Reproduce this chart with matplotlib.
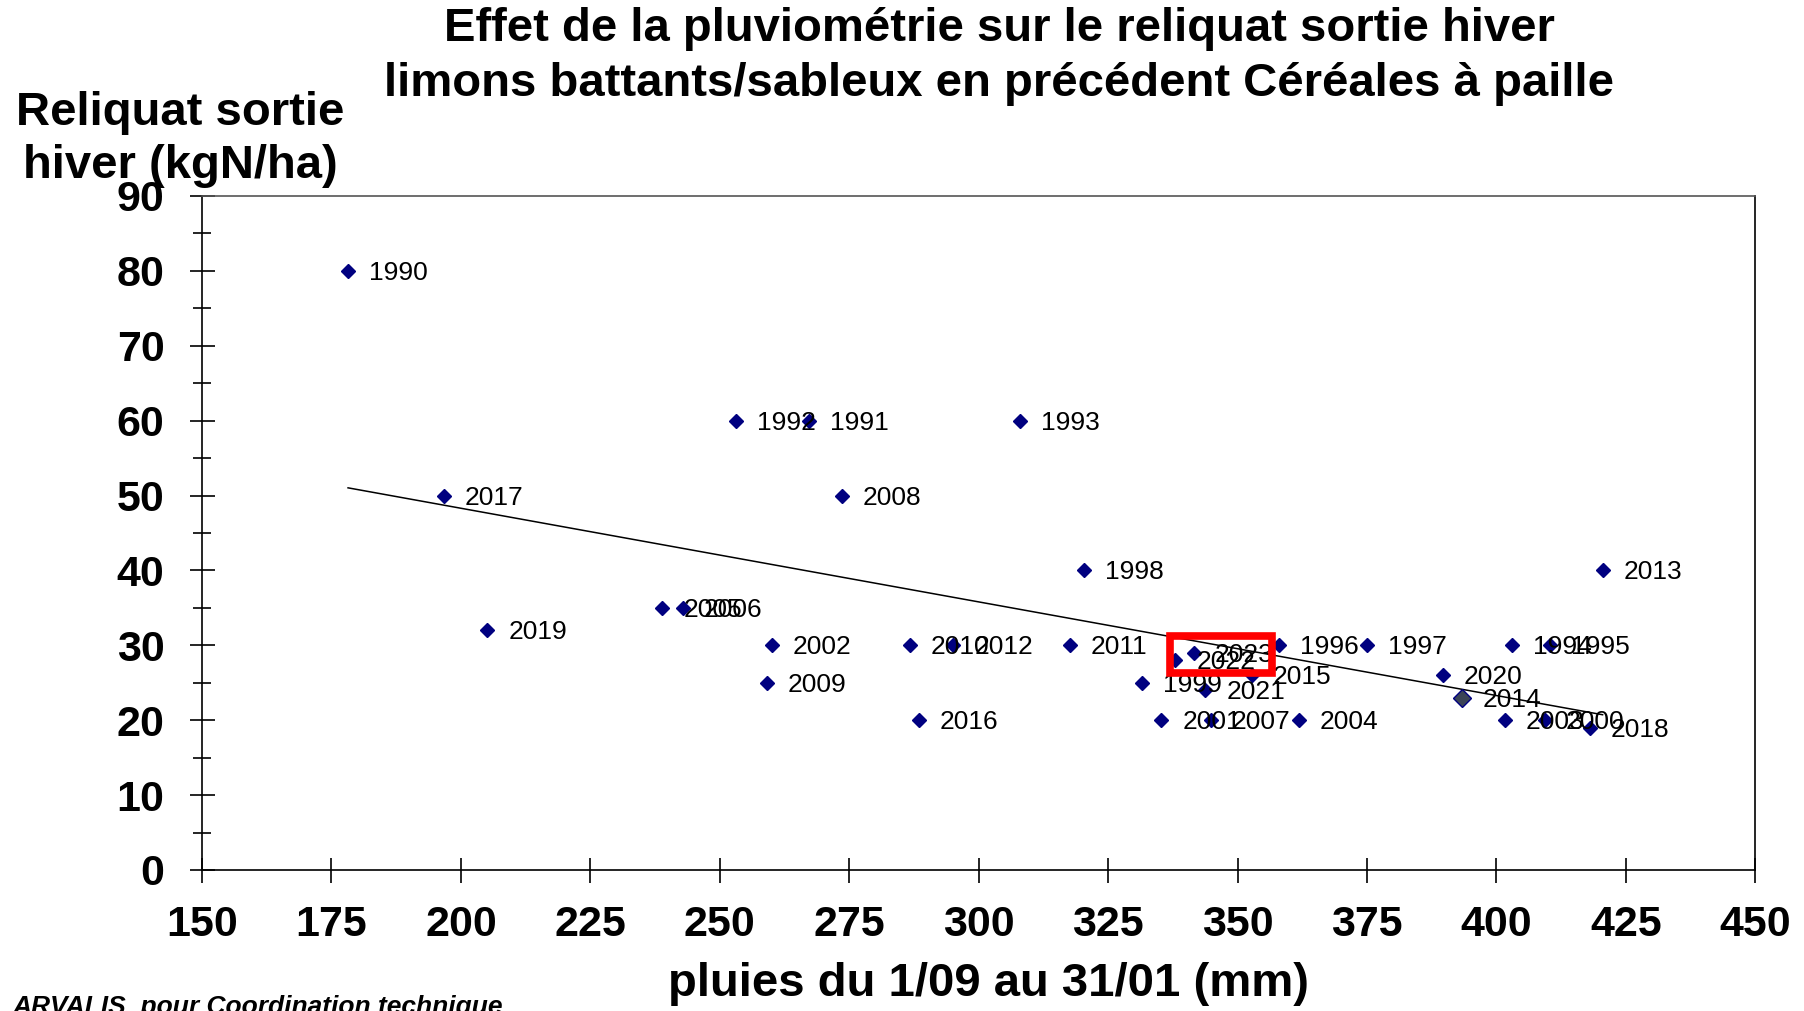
import numpy as np
import matplotlib
matplotlib.use("Agg")
import matplotlib.pyplot as plt
from matplotlib.patches import Rectangle
from matplotlib.ticker import MultipleLocator

plt.rcParams['font.family'] = ['Liberation Sans', 'DejaVu Sans']

# Data
years = ['1990', '2017', '2019', '2005', '2006', '1992', '1991', '2009', '2002',
         '2008', '2010', '2016', '2012', '1993', '2011', '1998', '1999', '2001',
         '2022', '2023', '2021', '2007', '2015', '1996', '2004', '1997', '2020',
         '2014', '2003', '1994', '1995', '2000', '2018', '2013']
pluies = [178.2, 196.7, 205.1, 238.9, 242.9, 253.1, 267.3, 259.1, 260.0,
          273.6, 286.7, 288.4, 295.1, 308.0, 317.6, 320.4, 331.6, 335.3,
          338.0, 341.6, 343.8, 344.9, 352.7, 358.1, 361.8, 375.1, 389.7,
          393.4, 401.6, 403.0, 410.3, 409.4, 418.0, 420.5]
reliquat = [80, 50, 32, 35, 35, 60, 60, 25, 30,
            50, 30, 20, 30, 60, 30, 40, 25, 20,
            28, 29, 24, 20, 26, 30, 20, 30, 26,
            23, 20, 30, 30, 20, 19, 40]

highlight_year = '2014'
# box drawn around the last campaigns (2022 / 2023)
box_x = (336.9, 356.7)
box_y = (26.3, 31.25)

x = np.array(pluies)
y = np.array(reliquat)

fig = plt.figure(figsize=(18.04, 10.11), dpi=100)
ax = fig.add_axes([0.112, 0.1395, 0.861, 0.6667])

# scatter points
for yr, xi, yi in zip(years, x, y):
    if yr == highlight_year:
        ax.plot(xi, yi, marker='D', markersize=9.5, color='#3b4456',
                markeredgecolor='#000080', markeredgewidth=1, linestyle='none', zorder=4)
    else:
        ax.plot(xi, yi, marker='D', markersize=7, color='#000080',
                linestyle='none', zorder=4)
    ax.annotate(yr, (xi, yi), xytext=(15, -1.5), textcoords='offset points',
                ha='left', va='center', fontsize=19, color='black', zorder=5)

# linear trendline
a, b = np.polyfit(x, y, 1)
xt = np.array([x.min(), x.max()])
ax.plot(xt, a * xt + b, color='black', linewidth=1.1, zorder=3)

ax.add_patch(Rectangle((box_x[0], box_y[0]), box_x[1] - box_x[0], box_y[1] - box_y[0],
                       fill=False, edgecolor='#ff0000', linewidth=5.5, zorder=6))

ax.set_xlim(150, 450)
ax.set_ylim(0, 90)
ax.xaxis.set_major_locator(MultipleLocator(25))
ax.yaxis.set_major_locator(MultipleLocator(10))
ax.yaxis.set_minor_locator(MultipleLocator(5))
ax.tick_params(axis='both', which='major', direction='inout', length=18, width=1.2,
               labelsize=31)
ax.tick_params(axis='y', which='minor', direction='inout', length=13, width=1.2)
for lbl in ax.get_xticklabels() + ax.get_yticklabels():
    lbl.set_fontweight('bold')
ax.tick_params(axis='x', pad=16)
ax.tick_params(axis='y', pad=18)
for s in ax.spines.values():
    s.set_linewidth(1.2)
ax.spines['top'].set_color('#555555')

fig.text(0.554, 0.971, 'Effet de la pluviométrie sur le reliquat sortie hiver',
         ha='center', va='center', fontsize=34, fontweight='bold')
fig.text(0.554, 0.917, 'limons battants/sableux en précédent Céréales à paille',
         ha='center', va='center', fontsize=34, fontweight='bold')
fig.text(0.1, 0.862, 'Reliquat sortie\nhiver (kgN/ha)', ha='center', va='center',
         fontsize=34, fontweight='bold', linespacing=1.25)
fig.text(0.548, 0.027, 'pluies du 1/09 au 31/01 (mm)', ha='center', va='center',
         fontsize=34, fontweight='bold')
fig.text(0.007, 0.004, 'ARVALIS  pour Coordination technique', ha='left', va='center',
         fontsize=19, fontweight='bold', fontstyle='italic')

fig.savefig('out.png', dpi=100)
